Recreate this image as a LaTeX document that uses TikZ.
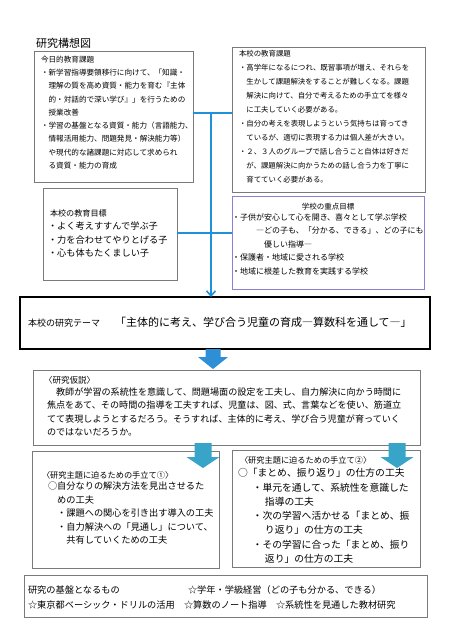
\documentclass[tikz,border=0pt]{standalone}
\usepackage{fontspec}
\setmainfont{Noto Sans CJK JP}
\usetikzlibrary{arrows.meta}

\definecolor{boxgray}{HTML}{7A7A7A}
\definecolor{lineblue}{HTML}{1E90DC}
\definecolor{arrblue}{HTML}{2E8FD6}
\definecolor{arrteal}{HTML}{37A4C8}
\definecolor{jutenpurple}{HTML}{8F7FD0}

\begin{document}
\begin{tikzpicture}[
  x=1pt, y=-1pt,
  every node/.style={inner sep=0pt, outer sep=0pt},
  box/.style={draw=boxgray, line width=0.8pt},
  txt/.style 2 args={anchor=north west, align=left, font={\fontsize{#1}{#2}\selectfont},
    execute at begin node=\strut},
  bline/.style={draw=lineblue, line width=1.6pt},
  barr/.style={bline, -{Straight Barb[length=5pt, width=9pt]}}
]
  \useasboundingbox (0,0) rectangle (449,640);

  \node[txt={11}{13}, anchor=base west] (title) at (36,47) {研究構想図};

  % upper four boxes
  \node[box, minimum width=159pt, minimum height=131pt] (kyou) at (113.5,116.5) {};
  \node[box, minimum width=193pt, minimum height=145pt] (honkadai) at (328.5,119.5) {};
  \node[box, minimum width=134pt, minimum height=92pt] (honmok) at (110,234) {};
  \node[box, draw=jutenpurple, minimum width=192pt, minimum height=93pt] (juten) at (328,242.5) {};

  \node[txt={7.6}{13.3}] (kyoutxt) at (41,55.7) {今日的教育課題\\
    ・新学習指導要領移行に向けて、「知識・\\
    　理解の質を高め資質・能力を育む『主体\\
    　的・対話的で深い学び』」を行うための\\
    　授業改善\\
    ・学習の基盤となる資質・能力（言語能力、\\
    　情報活用能力、問題発見・解決能力等）\\
    　や現代的な諸課題に対応して求められ\\
    　る資質・能力の育成};

  \node[txt={7.4}{14}] (honkadaitxt) at (239,50.2) {本校の教育課題\\
    ・高学年になるにつれ、既習事項が増え、それらを\\
    　生かして課題解決をすることが難しくなる。課題\\
    　解決に向けて、自分で考えるための手立てを様々\\
    　に工夫していく必要がある。\\
    ・自分の考えを表現しようという気持ちは育ってき\\
    　ているが、適切に表現する力は個人差が大きい。\\
    ・２、３人のグループで話し合うこと自体は好きだ\\
    　が、課題解決に向かうための話し合う力を丁寧に\\
    　育てていく必要がある。};

  \node[txt={8.1}{13}, anchor=base west] (honmoktitle) at (50,216) {本校の教育目標};
  \node[txt={9.2}{13.4}] (honmoktxt) at (48,222.1) {・よく考えすすんで学ぶ子\\
    ・力を合わせてやりとげる子\\
    ・心も体もたくましい子};

  \node[txt={7.5}{13}, anchor=base] (jutentitle) at (328,209) {学校の重点目標};
  \node[txt={8}{13.5}] (jutentxt) at (232,213.5) {・子供が安心して心を開き、喜々として学ぶ学校\\
    　　　―どの子も、「分かる、できる」、どの子にも\\
    　　　　優しい指導―\\
    ・保護者・地域に愛される学校\\
    ・地域に根差した教育を実践する学校};

  % connectors
  \coordinate (upj) at (211,113);
  \coordinate (midj) at (211,233);
  \draw[bline] (kyou.east |- upj) -- (honkadai.west |- upj);
  \draw[bline] (honmok.east |- midj) -- (juten.west |- midj);

  % theme
  \node[draw=black, line width=1.3pt, minimum width=410pt, minimum height=52pt] (theme) at (225,323) {};
  \node[txt={9}{13}, anchor=base west] (themelabel) at (28,326) {本校の研究テーマ};
  \node[txt={11}{13}, anchor=base west] (themetxt) at (115,326) {「主体的に考え、学び合う児童の育成―算数科を通して―」};
  \draw[barr] (upj) -- (theme.north -| upj);

  % hypothesis
  \node[box, minimum width=387pt, minimum height=75pt] (kasetsu) at (226.5,407.5) {};
  \node[txt={8.5}{13}, anchor=base west] (kasetsutitle) at (44,383) {〈研究仮説〉};
  \node[txt={9.1}{13.4}] (kasetsutxt) at (47,387.6) {　教師が学習の系統性を意識して、問題場面の設定を工夫し、自力解決に向かう時間に\\
    焦点をあて、その時間の指導を工夫すれば、児童は、図、式、言葉などを使い、筋道立\\
    てて表現しようとするだろう。そうすれば、主体的に考え、学び合う児童が育っていく\\
    のではないだろうか。};

  % two approaches
  \node[box, minimum width=187pt, minimum height=117pt] (tedate1) at (125.5,509.5) {};
  \node[box, minimum width=188pt, minimum height=117pt] (tedate2) at (326,508.5) {};

  \node[txt={8.2}{13}, anchor=base west] (tedate1title) at (42,478) {〈研究主題に迫るための手立て①〉};
  \node[txt={9.2}{13.5}] (tedate1txt) at (48,482) {○自分なりの解決方法を見出させるた\\
    　めの工夫\\
    　・課題への関心を引き出す導入の工夫\\
    　・自力解決への「見通し」について、\\
    　　共有していくための工夫};

  \node[txt={8.2}{13}, anchor=base west] (tedate2title) at (240,463) {〈研究主題に迫るための手立て②〉};
  \node[txt={9.8}{14.3}] (tedate2txt) at (238,468.5) {○「まとめ、振り返り」の仕方の工夫\\
    \hspace*{1.5em}・単元を通して、系統性を意識した\\
    \hspace*{2.75em}指導の工夫\\
    \hspace*{1.5em}・次の学習へ活かせる「まとめ、振\\
    \hspace*{2.75em}り返り」の仕方の工夫\\
    \hspace*{1.5em}・その学習に合った「まとめ、振り\\
    \hspace*{2.75em}返り」の仕方の工夫};

  % block arrows
  \coordinate (ar1) at (213,349);
  \coordinate (ar2) at (203,443);
  \coordinate (ar3) at (397,443);
  \fill[arrblue] (ar1) ++(-7.5,0) -- ++(15,0) -- ++(0,8) -- ++(7.5,0) -- ++(-15,12) -- ++(-15,-12) -- ++(7.5,0) -- cycle;
  \fill[arrteal] (ar2) ++(-8.5,0) -- ++(17,0) -- ++(0,14) -- ++(8,0) -- ++(-16.5,11) -- ++(-16.5,-11) -- ++(8,0) -- cycle;
  \fill[arrteal] (ar3) ++(-8.5,0) -- ++(17,0) -- ++(0,14) -- ++(8,0) -- ++(-16.5,11) -- ++(-16.5,-11) -- ++(8,0) -- cycle;

  % foundation
  \node[box, minimum width=403pt, minimum height=42pt] (kiban) at (225.5,596) {};
  \node[txt={9.2}{13}, anchor=base west] (kibanlabel) at (28,593) {研究の基盤となるもの};
  \node[txt={9.2}{13}, anchor=base west] (kiban1) at (188,593) {☆学年・学級経営（どの子も分かる、できる）};
  \node[txt={9.2}{13}, anchor=base west] (kiban2) at (28,608) {☆東京都ベーシック・ドリルの活用　☆算数のノート指導　☆系統性を見通した教材研究};
\end{tikzpicture}
\end{document}
